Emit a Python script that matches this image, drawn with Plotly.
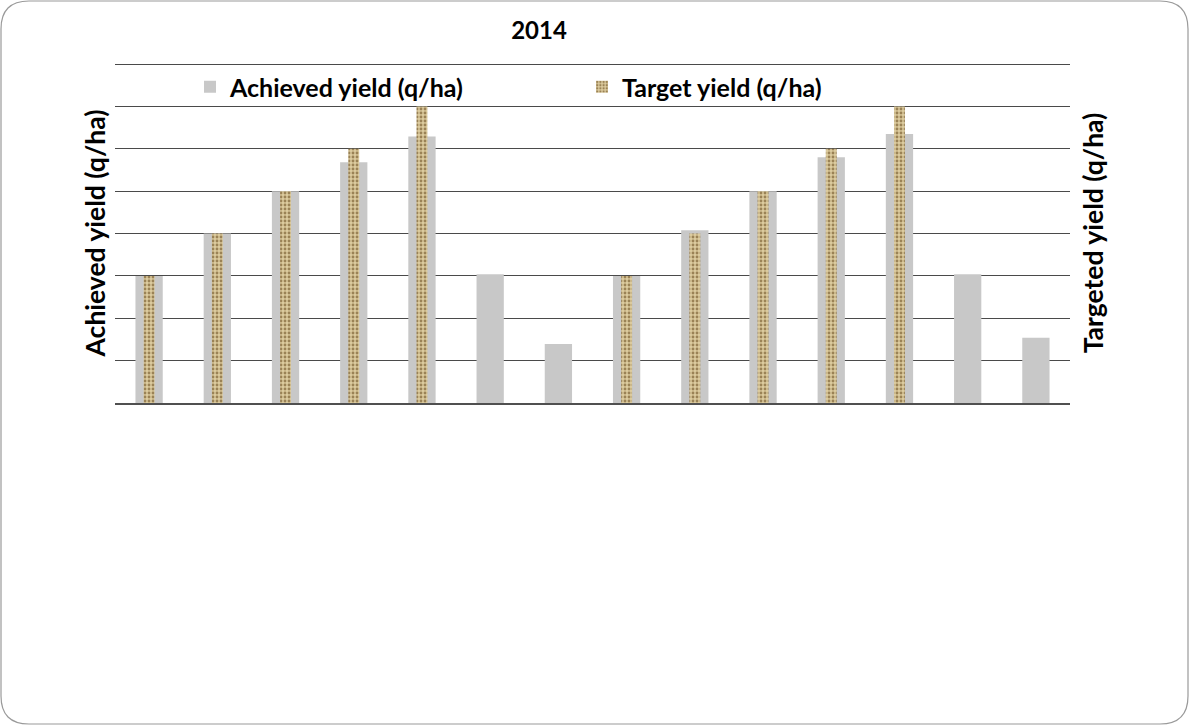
import plotly.graph_objects as go

# ---- data (axis 0-80, gridline every 10) ----
categories = [f"T{i}" for i in range(1, 15)]
achieved_yield = [30, 40, 50, 56.8, 62.9, 30.4, 13.9, 30, 40.8, 50, 58, 63.5, 30.4, 15.4]
target_yield = [30, 40, 50, 60, 70, None, None, 30, 40, 50, 60, 70, None, None]
series_names = ["Achieved yield (q/ha)", "Target yield (q/ha)"]
y_titles = ["Achieved yield (q/ha)", "Targeted yield (q/ha)"]
chart_title = "2014"

W, H = 1189, 725
L, R, T, B = 115, 1070, 63, 403  # plot area in pixels

def px(x):
    return (x - L) / (R - L)

def py(y):
    return (B - y) / (B - T)

FONT = "Lato, 'Open Sans', sans-serif"

fig = go.Figure()
fig.add_trace(go.Bar(
    x=categories, y=achieved_yield, name=series_names[0],
    width=0.40, marker=dict(color="#c8c8c8", line=dict(width=0)),
    yaxis="y",
))
fig.add_trace(go.Bar(
    x=categories, y=target_yield, name=series_names[1],
    width=0.16,
    marker=dict(color="#d2bd8c", line=dict(width=0),
                pattern=dict(shape=".", fgcolor="#9a8255", bgcolor="#dccb9e",
                             size=4, solidity=0.4, fillmode="replace")),
    yaxis="y2",
))

# rounded frame
x0, x1, y0, y1, r = 1, 1188, 1, 724, 28
def P(x, y):
    return f"{px(x):.5f},{py(y):.5f}"
path = (f"M {P(x0 + r, y0)} L {P(x1 - r, y0)} Q {P(x1, y0)} {P(x1, y0 + r)} "
        f"L {P(x1, y1 - r)} Q {P(x1, y1)} {P(x1 - r, y1)} "
        f"L {P(x0 + r, y1)} Q {P(x0, y1)} {P(x0, y1 - r)} "
        f"L {P(x0, y0 + r)} Q {P(x0, y0)} {P(x0 + r, y0)} Z")

YMAX = 80.25  # slight headroom so the top gridline (80) is drawn

fig.update_layout(
    width=W, height=H,
    margin=dict(l=L, r=W - R, t=T, b=H - B, autoexpand=False),
    paper_bgcolor="white", plot_bgcolor="white",
    barmode="overlay",
    font=dict(family=FONT, color="black"),
    title=dict(text=f"<b>{chart_title}</b>", x=539 / W, xanchor="center",
               y=1 - 31 / H, yanchor="middle", font=dict(size=24, family=FONT)),
    showlegend=True,
    legend=dict(orientation="h", x=px(190), xanchor="left", y=py(87), yanchor="middle",
                font=dict(size=25, family=FONT, weight="bold"), bgcolor="rgba(0,0,0,0)",
                entrywidth=347, entrywidthmode="pixels", traceorder="normal",
                itemwidth=30),
    xaxis=dict(showticklabels=False, showgrid=False, zeroline=False,
               showline=True, linecolor="#505050", linewidth=1.5, ticks=""),
    yaxis=dict(range=[0, YMAX], tick0=0, dtick=10, showticklabels=False, showgrid=True,
               gridcolor="#4a4a4a", gridwidth=1, zeroline=False, ticks="",
               title=dict(text=f"<b>{y_titles[0]}</b>", standoff=0,
                          font=dict(size=26.5, family=FONT))),
    yaxis2=dict(range=[0, YMAX], tick0=0, dtick=10, overlaying="y", side="right",
                showticklabels=False, showgrid=False, zeroline=False, ticks="",
                title=dict(text=f"<b>{y_titles[1]}</b>", standoff=14,
                           font=dict(size=26.5, family=FONT))),
    shapes=[dict(type="path", path=path, xref="paper", yref="paper",
                 line=dict(color="#9a9a9a", width=1.2), layer="below")],
)

fig.write_html("out.html")
